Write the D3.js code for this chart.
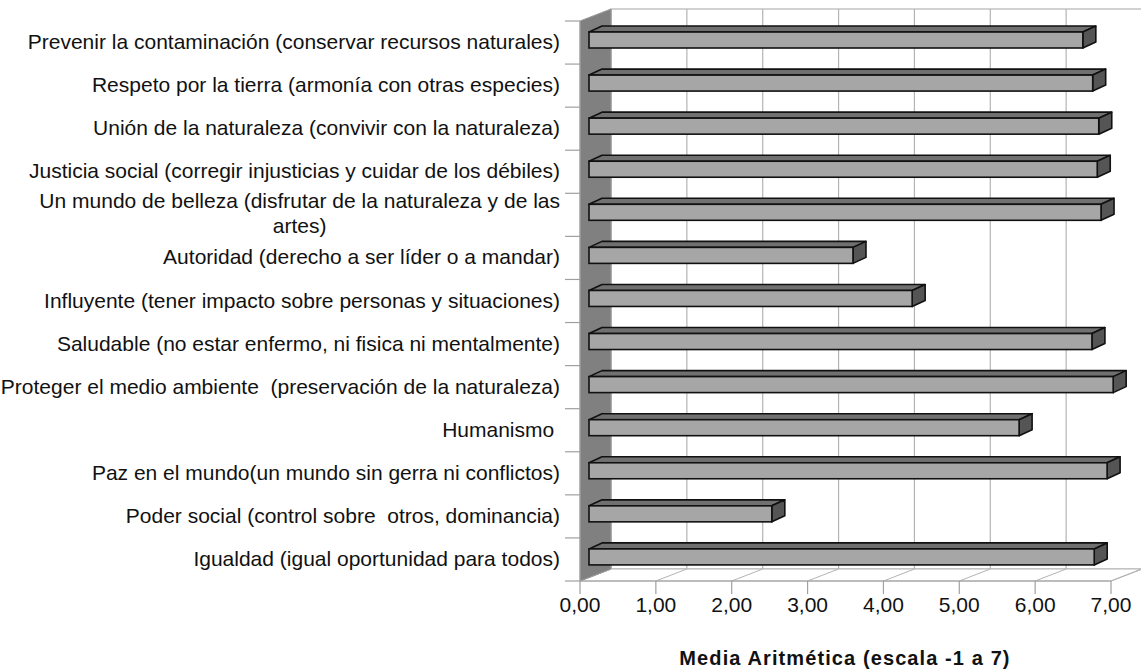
<!DOCTYPE html>
<html><head><meta charset="utf-8">
<script src="https://cdn.jsdelivr.net/npm/d3@7"></script>
<style>body{margin:0;background:#fff}svg{display:block}</style>
</head><body>
<svg id="c" width="1141" height="671"></svg>
<script>
const categories = [
  "Prevenir la contaminación (conservar recursos naturales)",
  "Respeto por la tierra (armonía con otras especies)",
  "Unión de la naturaleza (convivir con la naturaleza)",
  "Justicia social (corregir injusticias y cuidar de los débiles)",
  "Un mundo de belleza (disfrutar de la naturaleza y de las artes)",
  "Autoridad (derecho a ser líder o a mandar)",
  "Influyente (tener impacto sobre personas y situaciones)",
  "Saludable (no estar enfermo, ni fisica ni mentalmente)",
  "Proteger el medio ambiente  (preservación de la naturaleza)",
  "Humanismo ",
  "Paz en el mundo(un mundo sin gerra ni conflictos)",
  "Poder social (control sobre  otros, dominancia)",
  "Igualdad (igual oportunidad para todos)"
];
const labelLines = [
  ["Prevenir la contaminación (conservar recursos naturales)"],
  ["Respeto por la tierra (armonía con otras especies)"],
  ["Unión de la naturaleza (convivir con la naturaleza)"],
  ["Justicia social (corregir injusticias y cuidar de los débiles)"],
  ["Un mundo de belleza (disfrutar de la naturaleza y de las", "artes)"],
  ["Autoridad (derecho a ser líder o a mandar)"],
  ["Influyente (tener impacto sobre personas y situaciones)"],
  ["Saludable (no estar enfermo, ni fisica ni mentalmente)"],
  ["Proteger el medio ambiente  (preservación de la naturaleza)"],
  ["Humanismo "],
  ["Paz en el mundo(un mundo sin gerra ni conflictos)"],
  ["Poder social (control sobre  otros, dominancia)"],
  ["Igualdad (igual oportunidad para todos)"]
];
const values = [6.51, 6.64, 6.72, 6.70, 6.75, 3.48, 4.26, 6.63, 6.91, 5.67, 6.83, 2.41, 6.66];
const tickValues = [0, 1, 2, 3, 4, 5, 6, 7];
const tickLabels = ["0,00", "1,00", "2,00", "3,00", "4,00", "5,00", "6,00", "7,00"];
const axisTitle = "Media Aritmética (escala -1 a 7)";

const svg = d3.select("#c");
const FONT = "'Liberation Sans', Arial, sans-serif";
const DX = 31, DY = -12;          // full depth offset of the 3D box
const BDX = 13, BDY = -6;         // depth of each bar
const BOFF = 9;                   // bar front-face offset inside the box

const x = d3.scaleLinear().domain([0, 7]).range([580, 1111]);
const y = d3.scaleBand().domain(categories).range([21, 581]);

const gridCol = "#b4b4b4";

// back wall
const wallX0 = x(0) + DX, wallX1 = x(7) + DX, wallY0 = y.range()[0] + DY, wallY1 = y.range()[1] + DY;
svg.append("rect").attr("x", wallX0).attr("y", wallY0).attr("width", wallX1 - wallX0).attr("height", wallY1 - wallY0)
  .attr("fill", "#fff").attr("stroke", gridCol).attr("stroke-width", 1.2);
svg.append("g").selectAll("line").data(tickValues).join("line")
  .attr("x1", d => x(d) + DX).attr("x2", d => x(d) + DX)
  .attr("y1", wallY0).attr("y2", wallY1)
  .attr("stroke", gridCol).attr("stroke-width", 1.2);

// floor
const yF = y.range()[1];
svg.append("polygon")
  .attr("points", [[x(0), yF], [x(7), yF], [x(7) + DX, yF + DY], [x(0) + DX, yF + DY]].map(p => p.join(",")).join(" "))
  .attr("fill", "#fff").attr("stroke", gridCol).attr("stroke-width", 1.2);
svg.append("g").selectAll("line").data(tickValues).join("line")
  .attr("x1", d => x(d)).attr("x2", d => x(d) + DX)
  .attr("y1", yF).attr("y2", yF + DY)
  .attr("stroke", gridCol).attr("stroke-width", 1);

// side wall
const yT = y.range()[0];
svg.append("polygon")
  .attr("points", [[x(0), yT], [x(0) + DX, yT + DY], [x(0) + DX, yF + DY], [x(0), yF]].map(p => p.join(",")).join(" "))
  .attr("fill", "#808080").attr("stroke", "#9a9a9a").attr("stroke-width", 1);

// category ticks
const bounds = categories.map(c => y(c)).concat([y.range()[1]]);
svg.append("g").selectAll("line").data(bounds).join("line")
  .attr("x1", 565).attr("x2", x(0)).attr("y1", d => d).attr("y2", d => d)
  .attr("stroke", "#a0a0a0").attr("stroke-width", 1.2);

// x axis line and ticks
svg.append("line").attr("x1", x(0)).attr("x2", x(7)).attr("y1", yF).attr("y2", yF)
  .attr("stroke", "#a0a0a0").attr("stroke-width", 1.2);
svg.append("line").attr("x1", x(0)).attr("x2", x(0)).attr("y1", yT).attr("y2", yF)
  .attr("stroke", "#a0a0a0").attr("stroke-width", 1);
svg.append("g").selectAll("line").data(tickValues).join("line")
  .attr("x1", d => x(d)).attr("x2", d => x(d)).attr("y1", yF).attr("y2", yF + 13)
  .attr("stroke", "#a0a0a0").attr("stroke-width", 1.2);
svg.append("g").selectAll("text").data(tickValues).join("text")
  .attr("x", d => x(d)).attr("y", 604).attr("text-anchor", "middle").attr("dominant-baseline", "central")
  .attr("font-family", FONT).attr("font-size", 21).attr("fill", "#111")
  .text((d, i) => tickLabels[i]);

// bars
const bh = 16;
const bars = svg.append("g").selectAll("g").data(categories).join("g");
bars.each(function (c, i) {
  const g = d3.select(this);
  const v = values[i];
  const x0 = x(0) + BOFF, x1 = x(v) + BOFF;
  const yt = y(c) + 11, yb = yt + bh;
  const pts = a => a.map(p => p.join(",")).join(" ");
  g.append("polygon").attr("points", pts([[x0, yt], [x1, yt], [x1 + BDX, yt + BDY], [x0 + BDX, yt + BDY]]))
    .attr("fill", "#707070").attr("stroke", "#111").attr("stroke-width", 1.6).attr("stroke-linejoin", "round");
  g.append("polygon").attr("points", pts([[x1, yt], [x1 + BDX, yt + BDY], [x1 + BDX, yb + BDY], [x1, yb]]))
    .attr("fill", "#555").attr("stroke", "#111").attr("stroke-width", 1.6).attr("stroke-linejoin", "round");
  g.append("rect").attr("x", x0).attr("y", yt).attr("width", x1 - x0).attr("height", bh)
    .attr("fill", "#a6a6a6").attr("stroke", "#111").attr("stroke-width", 1.6);
});

// category labels
const lab = svg.append("g").attr("font-family", FONT).attr("font-size", 21).attr("fill", "#111");
labelLines.forEach((lines, i) => {
  const cy = y(categories[i]) + y.bandwidth() / 2 - 1;
  if (lines.length === 1) {
    lab.append("text").attr("x", 560).attr("y", cy).attr("text-anchor", "end")
      .attr("dominant-baseline", "central").style("white-space", "pre").text(lines[0]);
  } else {
    const t1 = lab.append("text").attr("x", 560).attr("y", cy - 13).attr("text-anchor", "end")
      .attr("dominant-baseline", "central").style("white-space", "pre").text(lines[0]);
    const w = t1.node().getComputedTextLength();
    lab.append("text").attr("x", 560 - w / 2).attr("y", cy + 12).attr("text-anchor", "middle")
      .attr("dominant-baseline", "central").style("white-space", "pre").text(lines[1]);
  }
});

// axis title
svg.append("text").attr("x", 845).attr("y", 658).attr("text-anchor", "middle").attr("dominant-baseline", "central")
  .attr("font-family", FONT).attr("font-size", 20).attr("font-weight", "bold").attr("letter-spacing", 1.1)
  .attr("fill", "#111").text(axisTitle);
</script>
</body></html>
